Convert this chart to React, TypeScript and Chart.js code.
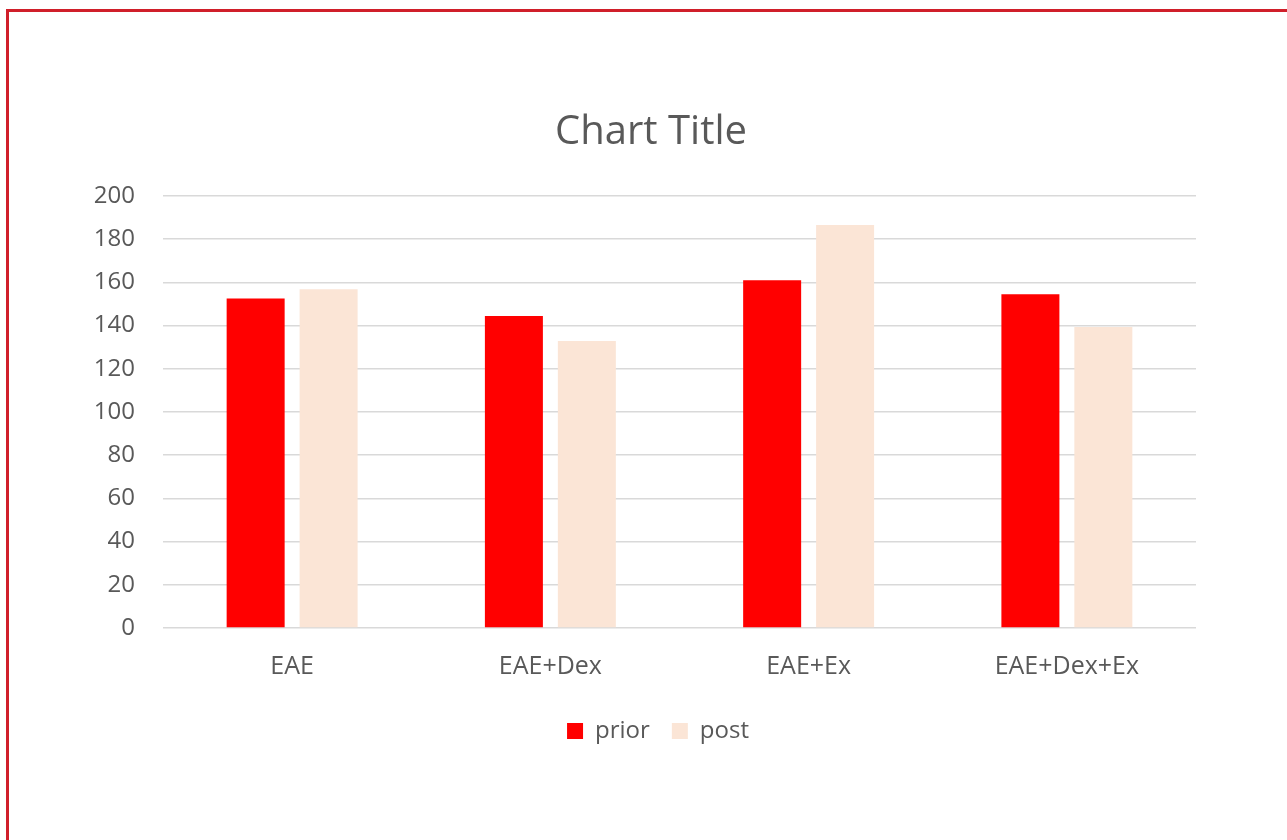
import React, { useEffect, useRef } from "react";
import { Chart, registerables } from "chart.js";

Chart.register(...registerables);

const categories = ["EAE", "EAE+Dex", "EAE+Ex", "EAE+Dex+Ex"];
const priorValues = [152.6, 144.4, 161.0, 154.5];
const postValues = [156.8, 132.9, 186.6, 139.4];
const seriesNames = ["prior", "post"];
const yMin = 0;
const yMax = 200;
const yStep = 20;
const titleText = "Chart Title";

const FONT = "'Open Sans', 'DejaVu Sans', sans-serif";
const TEXT = "#595959";

// Shifts title and legend so that they are centred like the reference
const centerShift = {
  id: "centerShift",
  afterLayout(chart: any) {
    if (chart.titleBlock) chart.titleBlock.left += 106;
    if (chart.legend) chart.legend.left += 120;
  },
};

export default function App() {
  const ref = useRef<HTMLCanvasElement | null>(null);

  useEffect(() => {
    if (!ref.current) return;
    const chart = new Chart(ref.current, {
      type: "bar",
      data: {
        labels: categories,
        datasets: [
          {
            label: seriesNames[0],
            data: priorValues,
            backgroundColor: "#FF0000",
            borderWidth: 0,
            categoryPercentage: 0.565,
            barPercentage: 0.795,
          },
          {
            label: seriesNames[1],
            data: postValues,
            backgroundColor: "#FBE5D6",
            borderWidth: 0,
            categoryPercentage: 0.565,
            barPercentage: 0.795,
          },
        ],
      },
      options: {
        responsive: false,
        animation: false,
        layout: { padding: { left: 0, right: 91, top: 0, bottom: 87 } },
        plugins: {
          title: {
            display: true,
            text: titleText,
            color: TEXT,
            font: { family: FONT, size: 40, weight: "normal" },
            padding: { top: 109, bottom: 39 },
          },
          legend: {
            display: true,
            position: "bottom",
            labels: {
              color: TEXT,
              font: { family: FONT, size: 24 },
              boxWidth: 16,
              boxHeight: 16,
              padding: 22,
            },
          },
          tooltip: { enabled: false },
        },
        scales: {
          x: {
            grid: { display: false },
            border: { display: false },
            ticks: {
              color: TEXT,
              font: { family: FONT, size: 25 },
              padding: 15.6,
              maxRotation: 0,
            },
            afterFit: (scale: any) => {
              scale.height = 69;
            },
          },
          y: {
            min: yMin,
            max: yMax,
            grid: { color: "#D9D9D9", lineWidth: 1.6, drawTicks: false },
            border: { display: false },
            ticks: {
              stepSize: yStep,
              color: TEXT,
              font: { family: FONT, size: 24 },
              padding: 28,
            },
            afterFit: (scale: any) => {
              scale.width = 163;
            },
          },
        },
      },
      plugins: [centerShift],
    });
    return () => chart.destroy();
  }, []);

  return (
    <div
      style={{
        position: "fixed",
        left: 0,
        top: 0,
        width: 1287,
        height: 840,
        overflow: "hidden",
        background: "#ffffff",
      }}
    >
      <canvas
        ref={ref}
        width={1287}
        height={840}
        style={{ position: "absolute", left: 0, top: 0, width: 1287, height: 840 }}
      />
      <div
        style={{
          position: "absolute",
          left: 6,
          top: 9,
          width: 1400,
          height: 1000,
          border: "3px solid #D01F2A",
          boxSizing: "border-box",
          pointerEvents: "none",
        }}
      />
    </div>
  );
}
